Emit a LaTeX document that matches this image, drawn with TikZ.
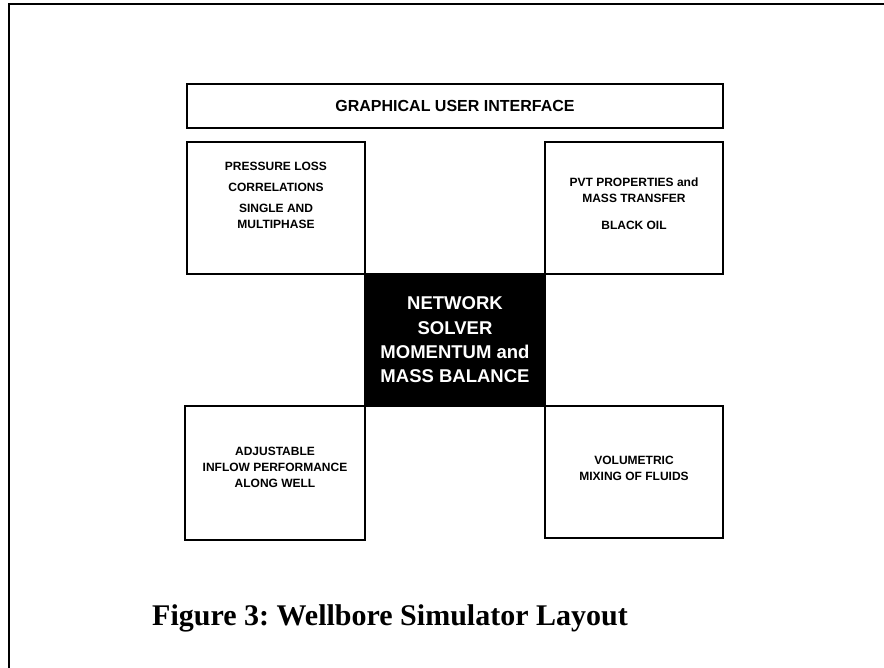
\documentclass[tikz,border=0pt]{standalone}
\usepackage{fontspec}
\setmainfont{Liberation Serif}
\newfontfamily\boxfont{Liberation Sans}
\usetikzlibrary{positioning,calc}
\frenchspacing

\tikzset{
  blockbox/.style={draw, line width=1.2pt, rectangle, inner sep=0pt},
  blocktext/.style={font=\boxfont\bfseries\fontsize{12}{16}\selectfont, align=center, inner sep=0pt},
  solverbox/.style={blockbox, fill=black},
  solvertext/.style={font=\boxfont\bfseries\fontsize{18.5}{24.3}\selectfont, text=white, align=center, inner sep=0pt}
}

\begin{document}
\begin{tikzpicture}[x=1pt, y=-1pt]
    \useasboundingbox (0,0) rectangle (884,668);

    % Frame
    \draw[line width=1.5pt] (9,668) -- (9,4) -- (884,4);

    % Interface
    \node[blockbox, minimum width=536pt, minimum height=44pt] (gui) at (455,106) {};
    \node[blocktext, font=\boxfont\bfseries\fontsize{16}{18}\selectfont] (guitext) at (gui.center) {GRAPHICAL USER INTERFACE};

    % Solver
    \node[solverbox, minimum width=180pt, minimum height=132pt] (solver) at (455,340) {};
    \node[solvertext] (solvertext) at ([yshift=0pt]solver.center) {NETWORK\\SOLVER\\MOMENTUM and\\MASS BALANCE};

    % Corner blocks
    \node[blockbox, minimum width=178pt, minimum height=132pt] (ploss) at (276,208) {};
    \node[blocktext] (plosstext) at ([yshift=13pt]ploss.center)
        {PRESSURE LOSS\\[5pt] CORRELATIONS\\[5pt] SINGLE AND\\ MULTIPHASE};

    \node[blockbox, minimum width=178pt, minimum height=132pt] (pvt) at (634,208) {};
    \node[blocktext] (pvttext) at ([yshift=4.5pt]pvt.center)
        {PVT PROPERTIES and\\ MASS TRANSFER\\[11pt] BLACK OIL};

    \node[blockbox, minimum width=180pt, minimum height=134pt] (inflow) at (275,473) {};
    \node[blocktext] (inflowtext) at ([yshift=6pt]inflow.center)
        {ADJUSTABLE\\ INFLOW PERFORMANCE\\ ALONG WELL};

    \node[blockbox, minimum width=178pt, minimum height=132pt] (mixing) at (634,472) {};
    \node[blocktext] (mixingtext) at ([yshift=3.5pt]mixing.center)
        {VOLUMETRIC\\ MIXING OF FLUIDS};

    % Caption
    \node[font=\bfseries\fontsize{30}{33}\selectfont, anchor=west, inner sep=0pt] (caption) at (152,618)
        {Figure 3: Wellbore Simulator Layout};
\end{tikzpicture}
\end{document}
